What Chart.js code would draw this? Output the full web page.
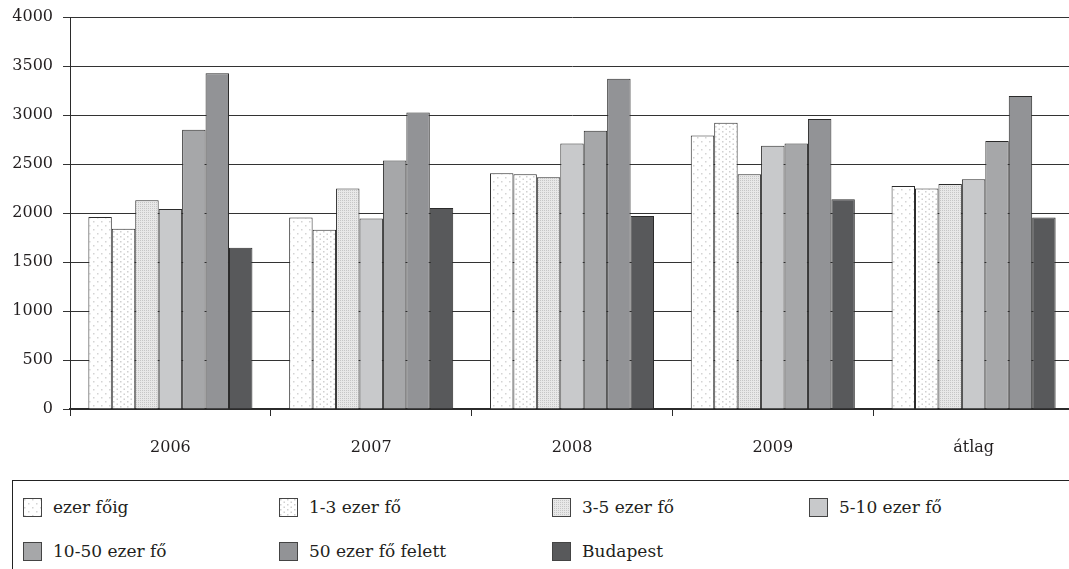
<!DOCTYPE html>
<html>
<head>
<meta charset="utf-8">
<script src="https://cdn.jsdelivr.net/npm/chart.js@4.4.1/dist/chart.umd.min.js"></script>
<style>
  html, body { margin: 0; padding: 0; background: #fff; overflow: hidden; width: 1069px; height: 569px; }
  #wrap { position: absolute; left: 0; top: 0; width: 1080px; height: 470px; }
  #legend { position: absolute; left: 12px; top: 480px; width: 1100px; height: 140px; border: 1px solid #222; box-sizing: border-box; }
  .item { position: absolute; display: flex; align-items: center; font-family: "DejaVu Serif", serif; font-size: 17px; color: #231f20; white-space: nowrap; }
  .item canvas { width: 19px; height: 19px; margin-right: 11px; display: block; }
</style>
</head>
<body>
<div id="wrap"><canvas id="c"></canvas></div>
<div id="legend"></div>
<script>
// ---- data ----
const categories = ['2006', '2007', '2008', '2009', 'átlag'];
const seriesNames = ['ezer főig', '1-3 ezer fő', '3-5 ezer fő', '5-10 ezer fő', '10-50 ezer fő', '50 ezer fő felett', 'Budapest'];
const ezerFoig   = [1960, 1955, 2405, 2790, 2275];
const ezer1_3    = [1840, 1830, 2395, 2920, 2250];
const ezer3_5    = [2130, 2250, 2365, 2395, 2295];
const ezer5_10   = [2040, 1945, 2710, 2685, 2345];
const ezer10_50  = [2850, 2535, 2840, 2710, 2735];
const felett50   = [3425, 3025, 3370, 2960, 3195];
const budapest   = [1645, 2050, 1970, 2140, 1955];
const yTickValues = [0, 500, 1000, 1500, 2000, 2500, 3000, 3500, 4000];

const seriesValues = [ezerFoig, ezer1_3, ezer3_5, ezer5_10, ezer10_50, felett50, budapest];

// ---- fills ----
function dotPattern(w, h, dots, dotColor, bg) {
  const c = document.createElement('canvas');
  c.width = w; c.height = h;
  const x = c.getContext('2d');
  x.fillStyle = bg; x.fillRect(0, 0, w, h);
  x.fillStyle = dotColor;
  dots.forEach(d => x.fillRect(d[0], d[1], 1.5, 1.5));
  return c;
}
function finePattern() {
  const c = document.createElement('canvas');
  c.width = 2; c.height = 2;
  const x = c.getContext('2d');
  x.fillStyle = '#e8e8e8'; x.fillRect(0, 0, 2, 2);
  x.fillStyle = '#c6c6c6'; x.fillRect(0, 0, 1, 1);
  return c;
}
const tiles = [
  dotPattern(8, 8, [[1, 1], [5, 5]], '#d4d4d4', '#ffffff'),
  dotPattern(7, 5, [[1, 1], [4.5, 3.5]], '#d0d0d0', '#ffffff'),
  finePattern(),
  null, null, null, null
];
const solidColors = [null, null, null, '#c8c9cb', '#a6a7a9', '#929396', '#58595b'];
const ctx0 = document.getElementById('c').getContext('2d');
const fills = tiles.map((t, i) => t ? ctx0.createPattern(t, 'repeat') : solidColors[i]);

const datasets = seriesNames.map((name, i) => ({
  label: name,
  data: seriesValues[i],
  backgroundColor: fills[i],
  borderColor: '#2b2b2b',
  borderWidth: 1,
  borderSkipped: 'start',
  categoryPercentage: 0.817,
  barPercentage: 1.0
}));

const tickFont = { family: '"DejaVu Serif", serif', size: 16 };

new Chart(document.getElementById('c'), {
  type: 'bar',
  data: { labels: categories, datasets },
  options: {
    responsive: true,
    maintainAspectRatio: false,
    animation: false,
    layout: { padding: { top: 17, right: 6, left: 0, bottom: 0 } },
    plugins: { legend: { display: false }, tooltip: { enabled: false } },
    scales: {
      x: {
        grid: { offset: true, drawOnChartArea: false, drawTicks: true, tickLength: 7, color: '#2b2b2b', lineWidth: 1 },
        border: { display: true, color: '#2b2b2b', width: 2 },
        ticks: { font: tickFont, color: '#231f20', padding: 22, maxRotation: 0 },
        afterFit: s => { s.height = 61; s.paddingLeft = 0; s.paddingRight = 0; }
      },
      y: {
        min: 0, max: 4000,
        afterBuildTicks: s => { s.ticks = yTickValues.map(v => ({ value: v })); },
        grid: { color: '#333', lineWidth: 1, drawTicks: true, tickLength: 7 },
        border: { display: true, color: '#2b2b2b', width: 1 },
        ticks: { font: tickFont, color: '#231f20', padding: 10, callback: v => String(v) },
        afterFit: s => { s.width = 70; s.paddingTop = 0; s.paddingBottom = 0; }
      }
    }
  }
});

// ---- legend ----
const legendCols = [23, 279, 552, 809];
const legendRows = [507, 551];
const legendEl = document.getElementById('legend');
seriesNames.forEach((name, i) => {
  const item = document.createElement('div');
  item.className = 'item';
  item.style.left = (legendCols[i % 4] - 13) + 'px';
  item.style.top = (legendRows[Math.floor(i / 4)] - 481 - 11) + 'px';
  item.style.height = '22px';
  const sw = document.createElement('canvas');
  sw.width = 19; sw.height = 19;
  const sx = sw.getContext('2d');
  sx.fillStyle = tiles[i] ? sx.createPattern(tiles[i], 'repeat') : solidColors[i];
  sx.fillRect(0, 0, 19, 19);
  sx.strokeStyle = '#444'; sx.lineWidth = 1;
  sx.strokeRect(0.5, 0.5, 18, 18);
  const tx = document.createElement('span');
  tx.textContent = name;
  item.appendChild(sw); item.appendChild(tx);
  legendEl.appendChild(item);
});
</script>
</body>
</html>
